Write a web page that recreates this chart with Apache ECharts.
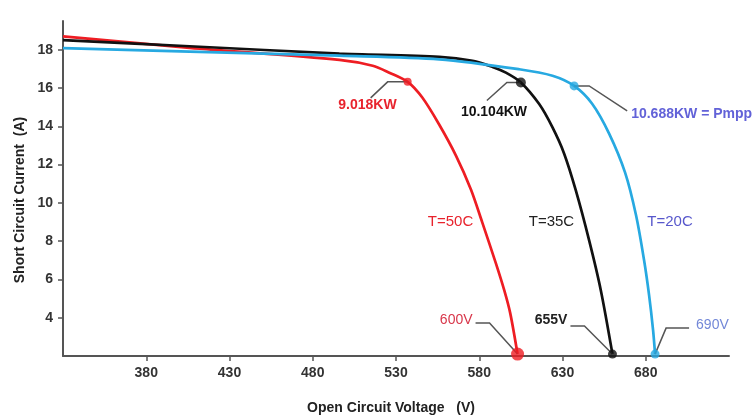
<!DOCTYPE html>
<html><head><meta charset="utf-8">
<script src="https://cdn.jsdelivr.net/npm/echarts@6/dist/echarts.min.js"></script>
<style>html,body{margin:0;padding:0;background:#fff}#c{width:755px;height:418px}</style>
</head><body><div id="c"></div>
<script>
// ---- data ----
const seriesNames = ['T=50C', 'T=35C', 'T=20C'];
const volt50 = [330, 406, 496, 516, 526, 537, 545.8, 556, 566, 575, 581.8, 590, 595, 598.6, 603];
const amp50  = [18.7, 18.1, 17.47, 17.16, 16.8, 16.32, 15.5, 14.08, 12.47, 10.7, 8.98, 6.84, 5.44, 4.24, 2.1];
const volt35 = [330, 406, 496, 556, 576, 588, 596, 605, 616, 624, 631, 638, 646, 653, 660];
const amp35  = [18.5, 18.18, 17.8, 17.63, 17.42, 17.1, 16.8, 16.29, 15.16, 13.94, 12.57, 10.65, 8.04, 5.44, 2.1];
const volt20 = [330, 406, 496, 556, 604, 624, 637, 647.8, 658, 667.6, 674.2, 679, 682, 684.4, 685.6];
const amp20  = [18.08, 17.9, 17.69, 17.5, 16.98, 16.64, 16.11, 15.18, 13.62, 11.58, 9.34, 7.0, 5.18, 3.35, 2.1];
const mppVolt = [537, 605, 637];
const mppAmp  = [16.32, 16.29, 16.11];
const mppLabels = ['9.018KW', '10.104KW', '10.688KW = Pmpp'];
const vocVolt = [603, 660, 685.6];
const vocAmp  = [2.1, 2.1, 2.1];
const vocLabels = ['600V', '655V', '690V'];
const xTicks = [330, 730, 50];   // min, max, interval
const yTicks = [2, 19.5, 2];
const xName = 'Open Circuit Voltage   (V)';
const yName = 'Short Circuit Current  (A)';

// ---- styles ----
const lineColors = ['#ee1d23', '#111111', '#27a9e1'];
const mppTextColors = ['#e8232d', '#111111', '#6262d8'];
const tempTextColors = ['#e8232d', '#222222', '#5858cc'];
const vocTextColors = ['#d8364a', '#222222', '#7388d8'];
const FONT = '"Liberation Sans", Arial, sans-serif';

const chart = echarts.init(document.getElementById('c'), null, {renderer: 'canvas'});
const curves = [[volt50, amp50], [volt35, amp35], [volt20, amp20]];

const series = curves.map((c, k) => ({
  name: seriesNames[k], type: 'line', smooth: 0.3, symbol: 'none',
  lineStyle: {color: lineColors[k], width: 2.7}, z: 3,
  data: c[0].map((v, i) => [v, c[1][i]])
}));
series.push({
  type: 'scatter', z: 5, symbolSize: (v, p) => [8, 10, 9][p.dataIndex],
  itemStyle: {color: (p) => lineColors[p.dataIndex]},
  data: mppVolt.map((v, i) => [v, mppAmp[i]])
});
series.push({
  type: 'scatter', z: 5, symbolSize: (v, p) => [13, 9, 9][p.dataIndex],
  itemStyle: {color: (p) => lineColors[p.dataIndex]},
  data: vocVolt.map((v, i) => [v, vocAmp[i]])
});

chart.setOption({
  animation: false,
  backgroundColor: '#fff',
  grid: {left: 63, right: 26, top: 21, bottom: 62},
  xAxis: {
    type: 'value', min: xTicks[0], max: xTicks[1], interval: xTicks[2],
    axisLine: {onZero: false, lineStyle: {color: '#555', width: 2}},
    axisTick: {show: true, length: 5, lineStyle: {color: '#555', width: 1.5}},
    axisLabel: {showMinLabel: false, showMaxLabel: false, margin: 10,
      fontFamily: FONT, fontSize: 14, fontWeight: 'bold', color: '#333'},
    splitLine: {show: false}
  },
  yAxis: {
    type: 'value', min: yTicks[0], max: yTicks[1], interval: yTicks[2],
    axisLine: {show: true, onZero: false, lineStyle: {color: '#555', width: 2}},
    axisTick: {show: true, length: 5, lineStyle: {color: '#555', width: 1.5}},
    axisLabel: {showMinLabel: false, showMaxLabel: false, margin: 10,
      fontFamily: FONT, fontSize: 14, fontWeight: 'bold', color: '#333'},
    splitLine: {show: false}
  },
  series: series
});

// ---- annotations (anchored to data points, offsets in px) ----
function px(v, i) { return chart.convertToPixel({gridIndex: 0}, [v, i]); }
const mppLeader = [[[-20, 0], [-37, 16]], [[-14, 0], [-34, 18]], [[15, 0], [53, 25]]];
const mppText = [{dx: -11, dy: 23, align: 'right'}, {dx: -60, dy: 30, align: 'left'}, {dx: 57, dy: 28, align: 'left'}];
const vocLeader = [[[-28, -31], [-42, -31]], [[-28, -28], [-42, -28]], [[11, -26], [34, -26]]];
const vocText = [{dx: -45, dy: -34, align: 'right', w: 'normal'}, {dx: -45, dy: -34, align: 'right', w: 'bold'}, {dx: 41, dy: -29, align: 'left', w: 'normal'}];
const tempText = [{dx: -67, dy: -132}, {dx: -61, dy: -132}, {dx: 15, dy: -132}];

const g = [];
for (let k = 0; k < 3; k++) {
  const p = px(mppVolt[k], mppAmp[k]);
  g.push({type: 'polyline', z: 4, shape: {points: [p].concat(mppLeader[k].map(d => [p[0] + d[0], p[1] + d[1]]))},
    style: {stroke: '#555', lineWidth: 1.5, fill: null}});
  g.push({type: 'text', z: 6, x: p[0] + mppText[k].dx, y: p[1] + mppText[k].dy,
    style: {text: mppLabels[k], fill: mppTextColors[k], font: 'bold 14px ' + FONT, align: mppText[k].align, verticalAlign: 'middle'}});
  const q = px(vocVolt[k], vocAmp[k]);
  g.push({type: 'polyline', z: 4, shape: {points: [q].concat(vocLeader[k].map(d => [q[0] + d[0], q[1] + d[1]]))},
    style: {stroke: '#555', lineWidth: 1.5, fill: null}});
  g.push({type: 'text', z: 6, x: q[0] + vocText[k].dx, y: q[1] + vocText[k].dy,
    style: {text: vocLabels[k], fill: vocTextColors[k], font: vocText[k].w + ' 14px ' + FONT, align: vocText[k].align, verticalAlign: 'middle'}});
  g.push({type: 'text', z: 6, x: q[0] + tempText[k].dx, y: q[1] + tempText[k].dy,
    style: {text: seriesNames[k], fill: tempTextColors[k], font: '15px ' + FONT, align: 'center', verticalAlign: 'middle'}});
}
// axis titles
g.push({type: 'text', x: 391, y: 408, style: {text: xName, fill: '#222', font: 'bold 14px ' + FONT, align: 'center', verticalAlign: 'middle'}});
g.push({type: 'text', x: 20, y: 200, rotation: Math.PI / 2, style: {text: yName, fill: '#222', font: 'bold 14px ' + FONT, align: 'center', verticalAlign: 'middle'}});
chart.setOption({graphic: g});
</script>
</body></html>
